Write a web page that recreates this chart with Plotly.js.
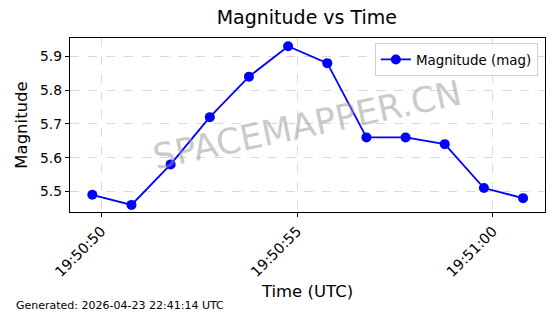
<!DOCTYPE html>
<html>
<head>
<meta charset="utf-8">
<script src="https://cdn.plot.ly/plotly-3.0.1.min.js"></script>
<style>html,body{margin:0;padding:0;background:#fff;}#chart{width:560px;height:314px;}</style>
</head>
<body>
<div id="chart"></div>
<script>
const times = [
  '2026-04-23 19:50:49.77', '2026-04-23 19:50:50.77', '2026-04-23 19:50:51.77',
  '2026-04-23 19:50:52.77', '2026-04-23 19:50:53.77', '2026-04-23 19:50:54.77',
  '2026-04-23 19:50:55.77', '2026-04-23 19:50:56.77', '2026-04-23 19:50:57.77',
  '2026-04-23 19:50:58.77', '2026-04-23 19:50:59.77', '2026-04-23 19:51:00.77'
];
const magnitudes = [5.49, 5.46, 5.58, 5.72, 5.84, 5.93, 5.88, 5.66, 5.66, 5.64, 5.51, 5.48];
const seriesName = 'Magnitude (mag)';
const titleText = 'Magnitude vs Time';
const xTitle = 'Time (UTC)';
const yTitle = 'Magnitude';
const watermark = 'SPACEMAPPER.CN';
const footer = 'Generated: 2026-04-23 22:41:14 UTC';

const font = 'DejaVu Sans, sans-serif';

const trace = {
  x: times, y: magnitudes, type: 'scatter', mode: 'lines+markers',
  name: seriesName,
  line: {color: '#0000ff', width: 1.8},
  marker: {color: '#0000ff', size: 10}
};

const layout = {
  width: 560, height: 314,
  margin: {l: 70, r: 15, t: 38, b: 102},
  paper_bgcolor: '#fff', plot_bgcolor: '#fff',
  font: {family: font, color: '#000', size: 13},
  showlegend: true,
  title: {text: titleText, font: {family: font, size: 19, color: '#000'},
          x: 0.548, xanchor: 'center', y: 0.965, yanchor: 'top'},
  xaxis: {
    type: 'date',
    range: ['2026-04-23 19:50:49.20', '2026-04-23 19:51:01.33'],
    tick0: '2026-04-23 19:50:50', dtick: 5000, tickformat: '%H:%M:%S',
    tickangle: -45, ticks: 'outside', ticklen: 4, tickcolor: '#000',
    tickfont: {family: font, size: 14.3, color: '#000'},
    showgrid: true, gridcolor: '#cfcfcf', griddash: 'dash', gridwidth: 0.8,
    showline: true, linecolor: '#000', linewidth: 1.2, mirror: true,
    zeroline: false,
    title: {text: xTitle, font: {family: font, size: 16.5, color: '#000'}, standoff: 6}
  },
  yaxis: {
    range: [5.439, 5.9545],
    tick0: 5.5, dtick: 0.1, tickformat: '.1f',
    ticks: 'outside', ticklen: 4, tickcolor: '#000',
    tickfont: {family: font, size: 13.8, color: '#000'},
    showgrid: true, gridcolor: '#cfcfcf', griddash: 'dash', gridwidth: 0.8,
    showline: true, linecolor: '#000', linewidth: 1.2, mirror: true,
    zeroline: false,
    title: {text: yTitle, font: {family: font, size: 16.5, color: '#000'}, standoff: 8}
  },
  legend: {
    x: 0.985, xanchor: 'right', y: 0.97, yanchor: 'top',
    bgcolor: 'rgba(255,255,255,0.8)', bordercolor: '#d0d0d0', borderwidth: 1,
    font: {family: font, size: 13.4, color: '#000'}
  },
  annotations: [
    {text: watermark, xref: 'paper', yref: 'paper', x: 0.499, y: 0.50,
     xanchor: 'center', yanchor: 'middle', showarrow: false, textangle: -12,
     font: {family: font, size: 35, color: 'rgba(150,150,150,0.5)'}},
    {text: footer, xref: 'paper', yref: 'paper', x: -0.117, y: -0.535,
     xanchor: 'left', yanchor: 'middle', showarrow: false,
     font: {family: font, size: 11, color: '#000'}}
  ]
};

Plotly.newPlot('chart', [trace], layout, {displayModeBar: false, staticPlot: true});
</script>
</body>
</html>
